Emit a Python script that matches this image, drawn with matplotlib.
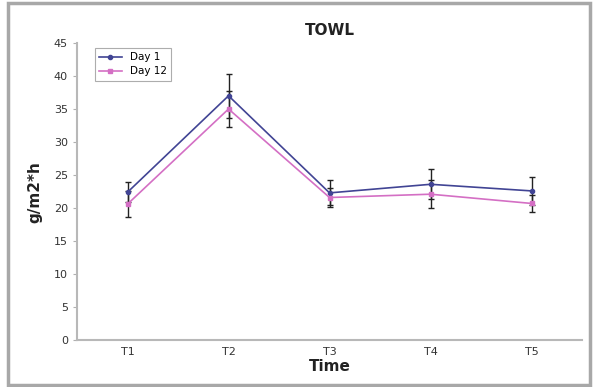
import matplotlib
matplotlib.use('Agg')
import matplotlib.pyplot as plt
from matplotlib.patches import Rectangle

times = ['T1', 'T2', 'T3', 'T4', 'T5']
day1 = [22.4, 37.0, 22.3, 23.6, 22.6]
day1_err = [1.5, 3.3, 1.9, 2.3, 2.1]
day12 = [20.6, 35.0, 21.6, 22.1, 20.7]
day12_err = [2.0, 2.7, 1.5, 2.1, 1.3]

fig = plt.figure(figsize=(5.97, 3.87), dpi=100)
ax = fig.add_axes([0.129, 0.121, 0.846, 0.768])

x = [i + 0.5 for i in range(len(times))]

ax.errorbar(x, day1, yerr=day1_err, fmt='none', ecolor='#222222',
            elinewidth=1.0, capsize=2.5, capthick=1.0)
ax.errorbar(x, day12, yerr=day12_err, fmt='none', ecolor='#222222',
            elinewidth=1.0, capsize=2.5, capthick=1.0)
l1, = ax.plot(x, day1, color='#414494', marker='o', markersize=3,
              linewidth=1.2, label='Day 1')
l2, = ax.plot(x, day12, color='#d46fc4', marker='s', markersize=3,
              linewidth=1.2, label='Day 12')

ax.set_xlim(0, 5)
ax.set_ylim(0, 45)
ax.set_yticks(range(0, 46, 5))
ax.set_xticks(x)
ax.set_xticklabels(times)
ax.tick_params(axis='x', length=0, labelsize=8, colors='#333333', pad=5)
ax.tick_params(axis='y', length=3, direction='out', labelsize=8, colors='#333333',
               color='#b0b0b0')
for s in ['top', 'right']:
    ax.spines[s].set_visible(False)
for s in ['left', 'bottom']:
    ax.spines[s].set_color('#b8b8b8')
    ax.spines[s].set_linewidth(1.5)

ax.set_title('TOWL', fontsize=11, fontweight='bold', pad=6, color='#222222')
ax.set_xlabel('Time', fontsize=11, fontweight='bold', labelpad=1, color='#222222')
ax.set_ylabel('g/m2*h', fontsize=11, fontweight='bold', labelpad=8, color='#222222')

leg = ax.legend(handles=[l1, l2], loc='upper left', bbox_to_anchor=(0.025, 1.0),
                fontsize=7.5, fancybox=False, edgecolor='#999999',
                handlelength=2.2, borderpad=0.4, labelspacing=0.4)
leg.get_frame().set_linewidth(0.8)

fig.patches.append(Rectangle((8 / 597, 2 / 387), 582 / 597, 382 / 387,
                             transform=fig.transFigure, fill=False,
                             edgecolor='#a8a8a8', linewidth=2.5))

fig.savefig('out.png', dpi=100)
